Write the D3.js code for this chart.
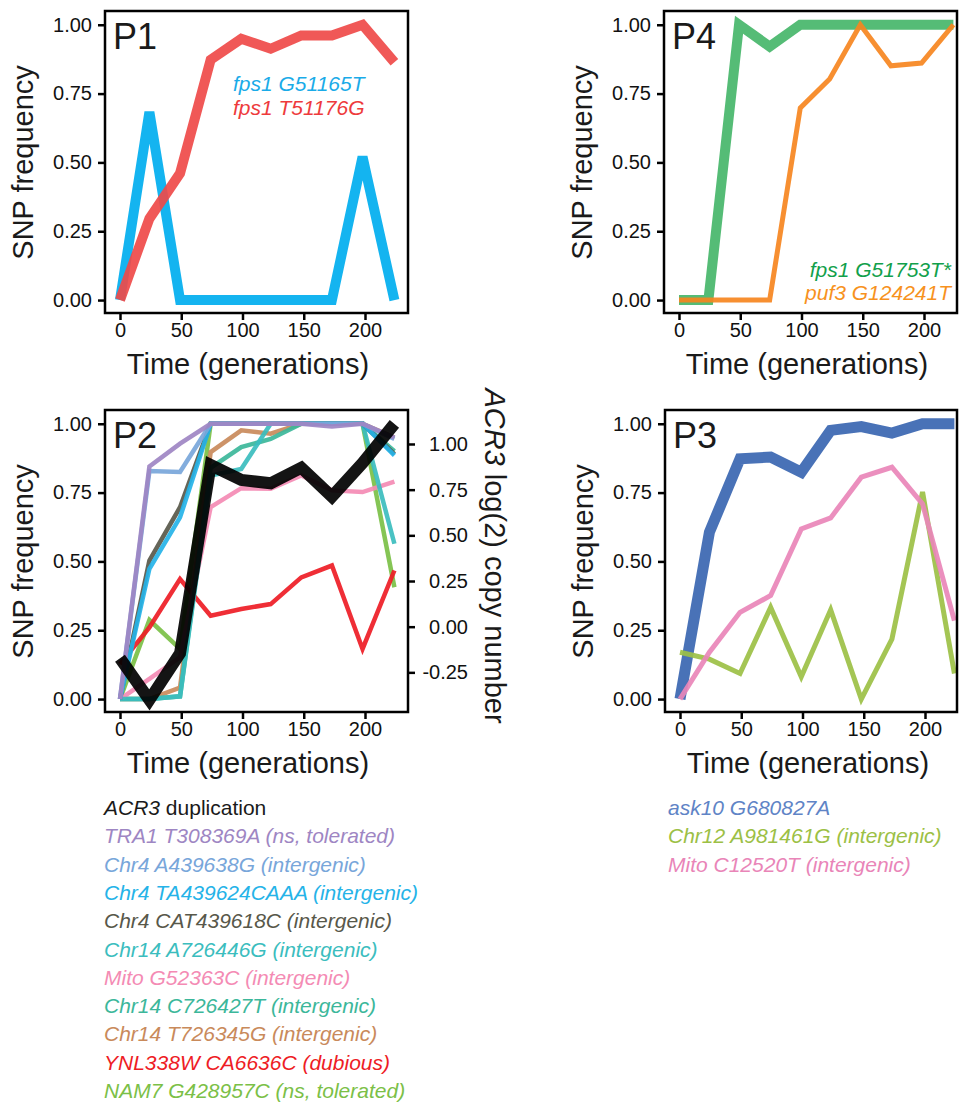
<!DOCTYPE html>
<html>
<head>
<meta charset="utf-8">
<script src="https://cdn.jsdelivr.net/npm/d3@7"></script>
<style>
body { margin: 0; background: #fff; }
svg { display: block; }
text { font-family: "Liberation Sans", Arial, sans-serif; }
</style>
</head>
<body>
<svg width="960" height="1103"></svg>
<script>
// sampling times (generations) and axis ticks
var times = [0, 24, 49, 74, 99, 123, 148, 173, 198, 224];
var xTicks = [0, 50, 100, 150, 200];
var yTicks = [0, 0.25, 0.5, 0.75, 1];
var cnTicks = [-0.25, 0, 0.25, 0.5, 0.75, 1];

// P1
var p1Names = ["fps1 G51165T", "fps1 T51176G"];
var p1G51165T = [0, 0.683, 0, 0, 0, 0, 0, 0, 0.52, 0];
var p1T51176G = [0, 0.296, 0.46, 0.873, 0.949, 0.913, 0.961, 0.961, 1.0, 0.864];

// P4
var p4Names = ["fps1 G51753T*", "puf3 G124241T"];
var p4G51753T = [0, 0, 1.0, 0.921, 1.0, 1.0, 1.0, 1.0, 1.0, 1.0];
var p4G124241T = [0, 0, 0, 0, 0.698, 0.803, 1.0, 0.851, 0.861, 1.0];

// P2 (ACR3 copy number on the right axis)
var p2Acr3 = [-0.173, -0.401, -0.146, 0.885, 0.803, 0.785, 0.87, 0.712, 0.896, 1.11];
var p2Names = [
  "TRA1 T308369A (ns, tolerated)",
  "Chr4 A439638G (intergenic)",
  "Chr4 TA439624CAAA (intergenic)",
  "Chr4 CAT439618C (intergenic)",
  "Chr14 A726446G (intergenic)",
  "Mito G52363C (intergenic)",
  "Chr14 C726427T (intergenic)",
  "Chr14 T726345G (intergenic)",
  "YNL338W CA6636C (dubious)",
  "NAM7 G428957C (ns, tolerated)"
];
var p2Tra1 = [0, 0.845, 0.928, 1, 1, 1, 1, 0.99, 1, 0.95];
var p2A439638G = [0, 0.828, 0.825, 1, 1, 1, 1, 1, 1, 0.945];
var p2TA439624 = [0, 0.473, 0.66, 1, 1, 1, 1, 1, 1, 0.885];
var p2CAT439618 = [0, 0.503, 0.697, 1, 1, 1, 1, 1, 1, 0.89];
var p2A726446G = [0, 0, 0.01, 0.812, 0.836, 1, 1, 1, 1, 0.564];
var p2G52363C = [0, 0.073, 0.152, 0.697, 0.766, 0.764, 0.812, 0.758, 0.752, 0.79];
var p2C726427T = [0, 0, 0.01, 0.84, 0.915, 0.945, 1, 1, 1, 0.9];
var p2T726345G = [0, 0, 0.042, 0.897, 0.976, 0.964, 1, 1, 1, 0.95];
var p2CA6636C = [0.127, 0.26, 0.436, 0.303, 0.327, 0.345, 0.442, 0.485, 0.182, 0.467];
var p2G428957C = [0, 0.287, 0.182, 1, 1, 1, 1, 1, 1, 0.406];

// P3
var p3Names = ["ask10 G680827A", "Chr12 A981461G (intergenic)", "Mito C12520T (intergenic)"];
var p3G680827A = [0, 0.606, 0.873, 0.879, 0.824, 0.976, 0.99, 0.966, 1.0, 1.0];
var p3A981461G = [0.17, 0.145, 0.093, 0.333, 0.081, 0.324, 0, 0.218, 0.752, 0.093];
var p3C12520T = [0, 0.17, 0.315, 0.376, 0.618, 0.658, 0.806, 0.842, 0.709, 0.285];

var svg = d3.select("svg");
var panelHeight = 302;

function makePanel(name, left, top, width) {
  var x = d3.scaleLinear()
      .domain([-15 / 1.225, (width - 15) / 1.225])
      .range([left, left + width]);
  var y = d3.scaleLinear()
      .domain([-0.047, 1.05])
      .range([top + panelHeight, top]);
  var g = svg.append("g");

  var ax = g.append("g")
      .attr("transform", "translate(0," + (top + panelHeight) + ")")
      .call(d3.axisBottom(x).tickValues(xTicks).tickSize(7).tickPadding(3)
        .tickFormat(function(d) { return String(d); }));
  var ay = g.append("g")
      .attr("transform", "translate(" + left + ",0)")
      .call(d3.axisLeft(y).tickValues(yTicks).tickSize(7).tickPadding(6)
        .tickFormat(function(d) { return d.toFixed(2); }));
  [ax, ay].forEach(function(a) {
    a.select(".domain").remove();
    a.selectAll("line").attr("stroke", "#000").attr("stroke-width", 2.5);
    a.selectAll("text").attr("font-size", 20).attr("fill", "#111")
        .attr("font-family", "'Liberation Sans', Arial, sans-serif");
  });

  g.append("text")
      .attr("x", left + 143)
      .attr("y", top + panelHeight + 61)
      .attr("text-anchor", "middle")
      .attr("font-size", 29)
      .attr("fill", "#1a1a1a")
      .text("Time (generations)");

  g.append("text")
      .attr("transform", "translate(" + (left - 72) + "," + ((y(0) + y(1)) / 2) + ") rotate(-90)")
      .attr("text-anchor", "middle")
      .attr("font-size", 29)
      .attr("fill", "#1a1a1a")
      .text("SNP frequency");

  var lines = g.append("g");

  g.append("rect")
      .attr("x", left).attr("y", top)
      .attr("width", width).attr("height", panelHeight)
      .attr("fill", "none").attr("stroke", "#000").attr("stroke-width", 2.5);

  g.append("text")
      .attr("x", left + 8)
      .attr("y", top + 38)
      .attr("font-size", 36)
      .attr("fill", "#1a1a1a")
      .text(name);

  return { g: g, lines: lines, x: x, y: y, left: left, top: top, width: width };
}

function drawLine(p, values, color, width, yScale) {
  var ys = yScale || p.y;
  var line = d3.line()
      .x(function(d, i) { return p.x(times[i]); })
      .y(function(d) { return ys(d); });
  p.lines.append("path")
      .datum(values)
      .attr("d", line)
      .attr("fill", "none")
      .attr("stroke", color)
      .attr("stroke-width", width)
      .attr("stroke-opacity", 0.92)
      .attr("stroke-linejoin", "miter");
}

// ---- P1
var p1 = makePanel("P1", 105, 11, 303);
drawLine(p1, p1G51165T, "#00AEEF", 10);
drawLine(p1, p1T51176G, "#EF4A49", 10);
[["#1AABE8", 91], ["#EE3A3C", 115]].forEach(function(c, i) {
  p1.g.append("text")
      .attr("x", p1.left + 128).attr("y", c[1])
      .attr("font-size", 21).attr("font-style", "italic")
      .attr("fill", c[0]).text(p1Names[i]);
});

// ---- P4
var p4 = makePanel("P4", 664, 11, 293);
drawLine(p4, p4G51753T, "#47B66A", 10);
drawLine(p4, p4G124241T, "#F6851F", 5);
[["#12A04B", 277], ["#F7921E", 300]].forEach(function(c, i) {
  p4.g.append("text")
      .attr("x", p4.left + p4.width - 6).attr("y", c[1])
      .attr("text-anchor", "end")
      .attr("font-size", 21).attr("font-style", "italic")
      .attr("fill", c[0]).text(p4Names[i]);
});

// ---- P2
var p2 = makePanel("P2", 105, 410, 303);
var y2 = d3.scaleLinear().domain([-0.467, 1.186]).range([410 + panelHeight, 410]);
var p2Series = [p2Tra1, p2A439638G, p2TA439624, p2CAT439618, p2A726446G,
  p2G52363C, p2C726427T, p2T726345G, p2CA6636C, p2G428957C];
var p2Colors = ["#9E86C3", "#78A6DA", "#25B3E8", "#58584A", "#3BBDBE",
  "#F48BB4", "#3CB79A", "#C98A5B", "#EE1C25", "#7BC047"];
for (var i = p2Series.length - 1; i >= 0; i--) {
  drawLine(p2, p2Series[i], p2Colors[i], 4.5);
}
drawLine(p2, p2Acr3, "#000", 12, y2);

var ar = p2.g.append("g")
    .attr("transform", "translate(" + (p2.left + p2.width) + ",0)")
    .call(d3.axisRight(y2).tickValues(cnTicks).tickSize(7).tickPadding(6)
      .tickFormat(function(d) { return d.toFixed(2); }));
ar.select(".domain").remove();
ar.selectAll("line").attr("stroke", "#000").attr("stroke-width", 2.5);
ar.selectAll("text").attr("font-size", 20).attr("fill", "#111")
    .attr("text-anchor", "end").attr("x", 60)
    .attr("font-family", "'Liberation Sans', Arial, sans-serif");

var rt = p2.g.append("text")
    .attr("transform", "translate(485,556) rotate(90)")
    .attr("text-anchor", "middle")
    .attr("font-size", 29)
    .attr("fill", "#1a1a1a");
rt.append("tspan").attr("font-style", "italic").text("ACR3");
rt.append("tspan").text(" log(2) copy number");

// legend P2
var leg2 = svg.append("g").attr("font-size", 21);
var l0 = leg2.append("text").attr("x", 104).attr("y", 815).attr("fill", "#1a1a1a");
l0.append("tspan").attr("font-style", "italic").text("ACR3");
l0.append("tspan").text(" duplication");
p2Names.forEach(function(n, i) {
  leg2.append("text")
      .attr("x", 104).attr("y", 815 + (i + 1) * 28.3)
      .attr("font-style", "italic")
      .attr("fill", p2Colors[i])
      .text(n);
});

// ---- P3
var p3 = makePanel("P3", 665, 410, 292);
var p3Series = [p3G680827A, p3A981461G, p3C12520T];
var p3Colors = ["#3A66B1", "#9CC045", "#E985B8"];
var p3Widths = [11, 5, 5];
p3Series.forEach(function(s, i) { drawLine(p3, s, p3Colors[i], p3Widths[i]); });

var leg3 = svg.append("g").attr("font-size", 21);
var p3TextColors = ["#5F84C6", "#9CC045", "#E985B8"];
p3Names.forEach(function(n, i) {
  leg3.append("text")
      .attr("x", 668).attr("y", 815 + i * 28.3)
      .attr("font-style", "italic")
      .attr("fill", p3TextColors[i])
      .text(n);
});
</script>
</body>
</html>
